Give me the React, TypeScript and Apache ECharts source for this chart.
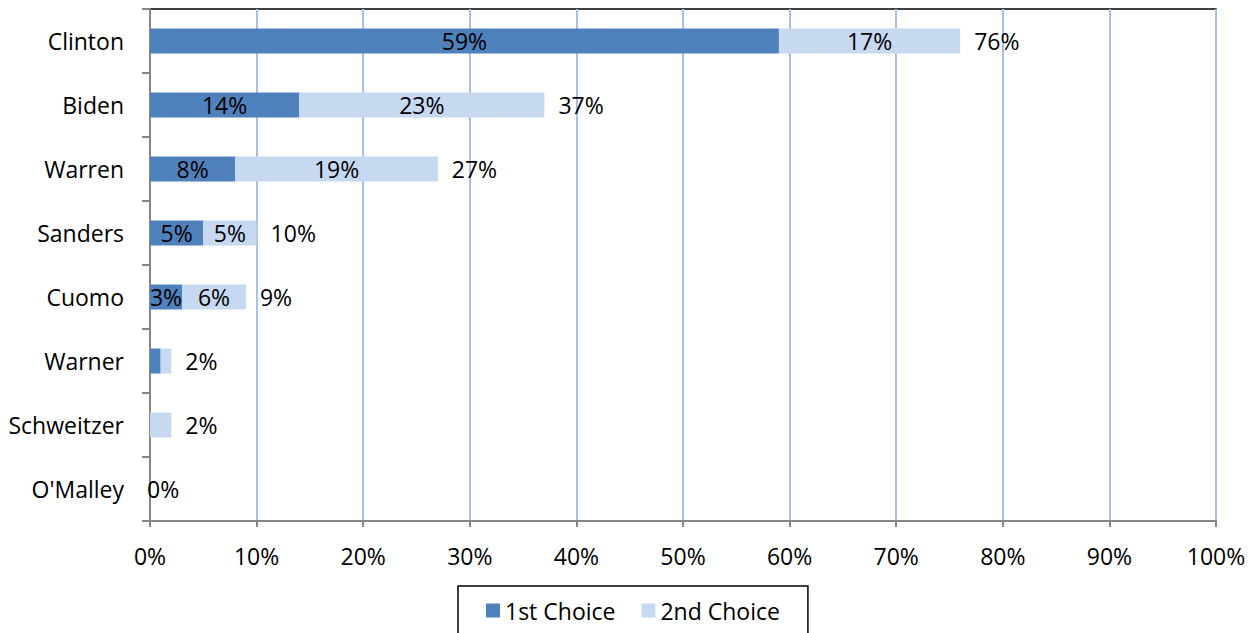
import React, { useEffect, useRef } from "react";
import * as echarts from "echarts";

const categories = ["Clinton", "Biden", "Warren", "Sanders", "Cuomo", "Warner", "Schweitzer", "O'Malley"];
const firstChoice = [59, 14, 8, 5, 3, 1, 0, 0];
const secondChoice = [17, 23, 19, 5, 6, 1, 2, 0];
const totals = [76, 37, 27, 10, 9, 2, 2, 0];

const FONT = "'Open Sans', 'Noto Sans', sans-serif";
const FS = 23;

export default function App() {
  const ref = useRef<HTMLDivElement>(null);
  useEffect(() => {
    if (!ref.current) return;
    const chart = echarts.init(ref.current, undefined, { renderer: "svg" });
    chart.setOption({
      animation: false,
      textStyle: { fontFamily: FONT },
      grid: {
        left: 150,
        right: 38,
        top: 9,
        bottom: 112,
        show: true,
        borderColor: "#000",
        borderWidth: 1.5,
        containLabel: false,
      },
      legend: {
        top: 586,
        left: 458,
        data: ["1st Choice", "2nd Choice"],
        itemWidth: 14,
        itemHeight: 14,
        itemGap: 26,
        padding: [13, 28, 20, 28],
        borderColor: "#000",
        borderWidth: 1.5,
        icon: "rect",
        textStyle: { fontSize: FS, color: "#000", fontFamily: FONT },
      },
      xAxis: {
        type: "value",
        min: 0,
        max: 100,
        interval: 10,
        axisLine: { show: true, lineStyle: { color: "#868686", width: 2 } },
        axisTick: { show: true, length: 6, lineStyle: { color: "#868686", width: 2 } },
        axisLabel: { formatter: "{value}%", fontSize: FS, color: "#000", margin: 23, fontFamily: FONT },
        splitLine: { show: true, lineStyle: { color: "#a9c1e8", width: 2 } },
      },
      yAxis: {
        type: "category",
        data: categories,
        inverse: true,
        axisLine: { show: true, lineStyle: { color: "#868686", width: 2 } },
        axisTick: { show: true, length: 8, lineStyle: { color: "#868686", width: 2 } },
        axisLabel: { fontSize: FS, color: "#000", margin: 26, fontFamily: FONT },
        splitLine: { show: false },
      },
      series: [
        {
          name: "1st Choice",
          type: "bar",
          stack: "a",
          data: firstChoice,
          barWidth: 25,
          itemStyle: { color: "#4f81bd" },
          label: {
            show: true,
            position: "inside",
            fontSize: FS,
            color: "#000",
            fontFamily: FONT,
            formatter: (p: any) => (p.value >= 3 ? p.value + "%" : ""),
          },
        },
        {
          name: "2nd Choice",
          type: "bar",
          stack: "a",
          data: secondChoice,
          barWidth: 25,
          itemStyle: { color: "#c6d9f1" },
          label: {
            show: true,
            position: "inside",
            fontSize: FS,
            color: "#000",
            fontFamily: FONT,
            formatter: (p: any) => (p.value >= 3 ? p.value + "%" : ""),
          },
        },
        {
          name: "Total",
          type: "bar",
          stack: "a",
          data: totals.map((t) =>
            t === 0 ? { value: 0, label: { distance: -3 } } : { value: 0 }
          ),
          barWidth: 25,
          itemStyle: { color: "transparent" },
          label: {
            show: true,
            position: "right",
            distance: 14,
            fontSize: FS,
            color: "#000",
            fontFamily: FONT,
            formatter: (p: any) => totals[p.dataIndex] + "%",
          },
        },
      ],
    });
    return () => chart.dispose();
  }, []);
  return (
    <div
      ref={ref}
      style={{ position: "fixed", left: 0, top: 0, width: 1254, height: 633, background: "#fff" }}
    />
  );
}
